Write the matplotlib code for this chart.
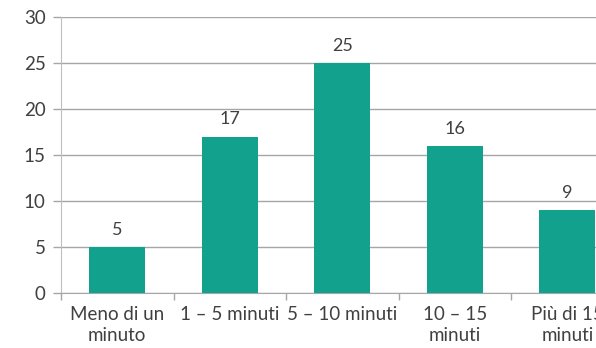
import matplotlib.pyplot as plt

# Tempo impiegato (categorie e conteggi)
categories = ["Meno di un\nminuto", "1 – 5 minuti", "5 – 10 minuti", "10 – 15\nminuti", "Più di 15\nminuti"]
counts = [5, 17, 25, 16, 9]
y_ticks = [0, 5, 10, 15, 20, 25, 30]

bar_color = "#11A18C"
text_color = "#404040"
grid_color = "#A6A6A6"

plt.rcParams['font.family'] = ['Lato', 'DejaVu Sans']

fig = plt.figure(figsize=(5.96, 3.48), dpi=100)
# axes deliberately run past the right edge, as in the original crop
ax = fig.add_axes([61 / 596, 55 / 348, 562.5 / 596, 276 / 348])

x = list(range(len(categories)))
bars = ax.bar(x, counts, width=0.5, color=bar_color, zorder=3)

for xi, v in zip(x, counts):
    ax.text(xi, v + 1.0, str(v), ha="center", va="bottom", fontsize=13, color=text_color)

ax.set_xlim(-0.5, len(categories) - 0.5)
ax.set_ylim(0, 30)
ax.set_yticks(y_ticks)
ax.yaxis.grid(True, color=grid_color, linewidth=1)
ax.set_axisbelow(True)

ax.set_xticks([i - 0.5 for i in range(len(categories) + 1)], minor=False)
ax.set_xticklabels([])
ax.set_xticks(x, minor=True)
ax.set_xticklabels(categories, minor=True, fontsize=13.5, color=text_color, linespacing=1.3)
ax.tick_params(axis="x", which="minor", length=0, pad=9)
ax.tick_params(axis="x", which="major", length=5, color=grid_color, width=1)
ax.tick_params(axis="y", length=6, color=grid_color, width=1, labelsize=13.5,
               labelcolor=text_color, pad=5)

for side in ["top", "right"]:
    ax.spines[side].set_visible(False)
ax.spines["left"].set_color("#BFBFBF")
ax.spines["bottom"].set_color(grid_color)

fig.savefig("out.png", dpi=100)
